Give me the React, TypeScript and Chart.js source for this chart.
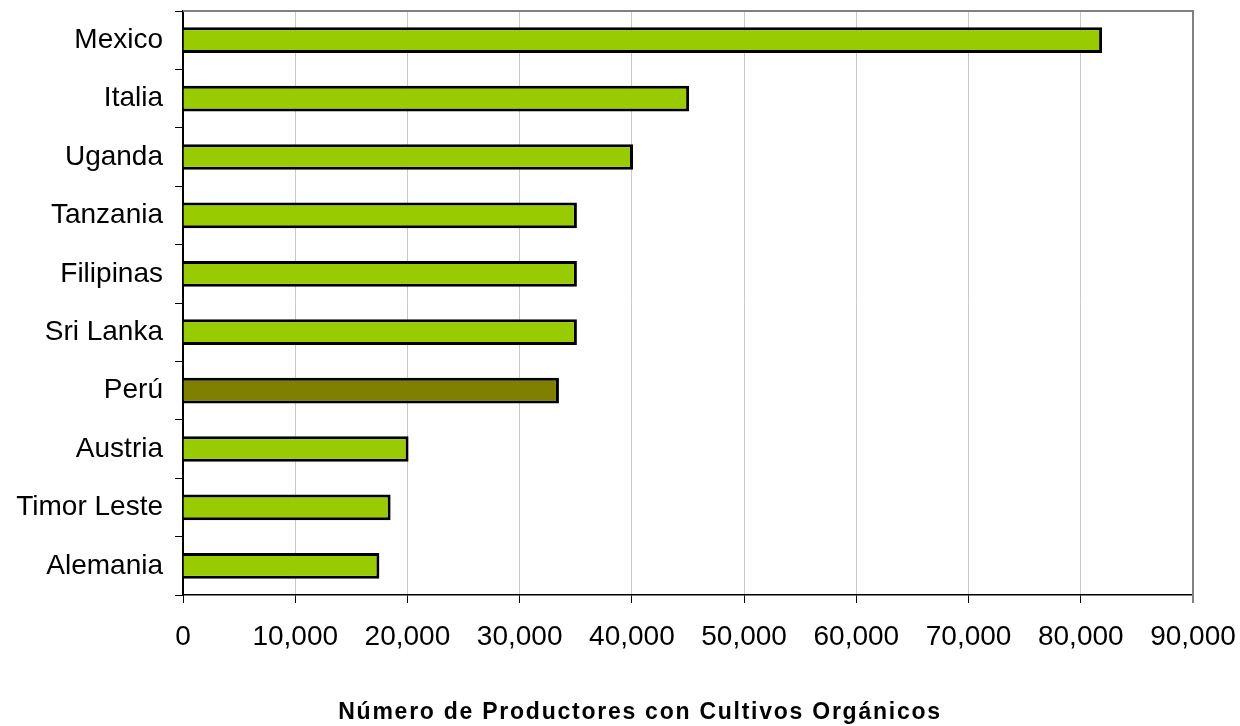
import React, { useEffect, useRef } from "react";
import { Chart, registerables } from "chart.js";

Chart.register(...registerables);

const countries = ["Mexico", "Italia", "Uganda", "Tanzania", "Filipinas", "Sri Lanka", "Perú", "Austria", "Timor Leste", "Alemania"];
const producers = [81900, 45100, 40100, 35100, 35100, 35100, 33500, 20100, 18500, 17500];
const highlight = "Perú";
const axisTitle = "Número de Productores con Cultivos Orgánicos";
const xMax = 90000;
const xStep = 10000;

const FONT = "'Liberation Sans', Arial, sans-serif";

export default function App() {
  const ref = useRef<HTMLCanvasElement | null>(null);

  useEffect(() => {
    document.body.style.margin = "0";
    const canvas = ref.current;
    if (!canvas) return;

    const framePlugin = {
      id: "frame",
      afterDraw(chart: any) {
        const { ctx, chartArea } = chart;
        ctx.save();
        ctx.strokeStyle = "#808080";
        ctx.lineWidth = 2;
        ctx.beginPath();
        ctx.moveTo(chartArea.left, chartArea.top);
        ctx.lineTo(chartArea.right, chartArea.top);
        ctx.lineTo(chartArea.right, chartArea.bottom + 8);
        ctx.stroke();
        // axis title with letter spacing
        ctx.fillStyle = "#000";
        ctx.font = `bold 23px ${FONT}`;
        (ctx as any).letterSpacing = "1.75px";
        ctx.textAlign = "center";
        ctx.textBaseline = "alphabetic";
        ctx.fillText(axisTitle, 640, 719);
        ctx.restore();
      },
    };

    const chart = new Chart(canvas, {
      type: "bar",
      data: {
        labels: countries,
        datasets: [
          {
            data: producers,
            backgroundColor: countries.map((c) => (c === highlight ? "#808000" : "#99CC00")),
            borderColor: "#000000",
            borderWidth: 3,
            barPercentage: 0.44,
            categoryPercentage: 1,
          },
        ],
      },
      options: {
        indexAxis: "y",
        animation: false,
        responsive: false,
        maintainAspectRatio: false,
        events: [],
        layout: { padding: { left: 0, top: 11, right: 47, bottom: 0 } },
        plugins: { legend: { display: false }, tooltip: { enabled: false }, title: { display: false } },
        scales: {
          x: {
            min: 0,
            max: xMax,
            ticks: {
              stepSize: xStep,
              color: "#000",
              font: { family: FONT, size: 28 },
              padding: 17,
              callback: (v: any) => Number(v).toLocaleString("en-US"),
            },
            grid: { color: "#c8c8c8", lineWidth: 1, tickColor: "#000", tickLength: 8, drawTicks: true },
            border: { color: "#000", width: 1.5 },
            afterFit: (s: any) => {
              s.height = 131;
              s.paddingLeft = 0;
              s.paddingRight = 0;
            },
          },
          y: {
            ticks: { color: "#000", font: { family: FONT, size: 28 }, padding: 12 },
            grid: { drawOnChartArea: false, tickColor: "#000", tickLength: 8, offset: true },
            border: { color: "#000", width: 2 },
            afterFit: (s: any) => {
              s.width = 183;
              s.paddingTop = 0;
              s.paddingBottom = 0;
            },
          },
        },
      },
      plugins: [framePlugin],
    });

    return () => chart.destroy();
  }, []);

  return (
    <div style={{ position: "absolute", left: 0, top: 0, width: 1240, height: 726 }}>
      <canvas ref={ref} width={1240} height={726} style={{ display: "block" }} />
    </div>
  );
}
